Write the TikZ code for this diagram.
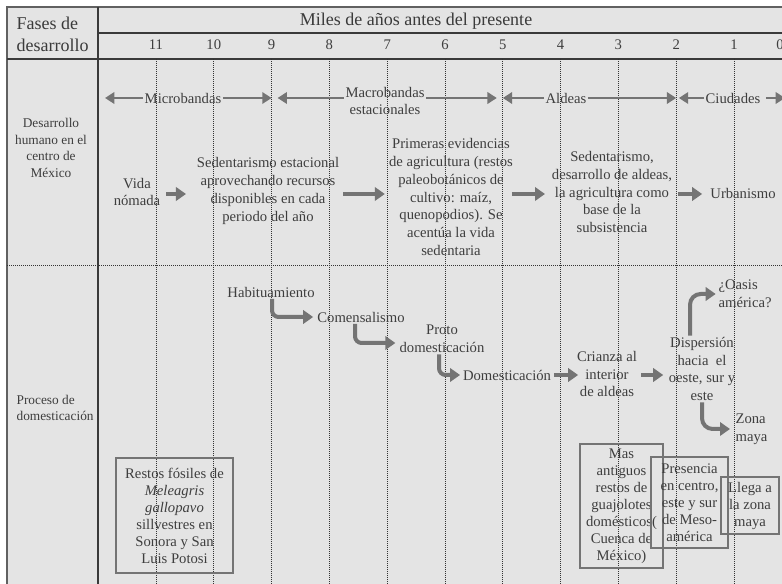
\documentclass[tikz,border=0pt]{standalone}
\usepackage{fontspec}
\setmainfont{Liberation Serif}
\usepackage{tikz}
\usetikzlibrary{arrows.meta,calc}
\definecolor{panel}{HTML}{E4E4E4}
\definecolor{ink}{HTML}{3E3E3E}
\definecolor{rulegray}{HTML}{3A3A3A}
\definecolor{arrowgray}{HTML}{747474}

\begin{document}
\begin{tikzpicture}[x=0.75pt,y=-0.75pt]
      \tikzstyle{txt} = [text=ink,font=\fontsize{11}{13.3}\selectfont,align=center,inner sep=1pt]
      \tikzstyle{head} = [text=rulegray,font=\fontsize{13.5}{16.5}\selectfont,align=left,inner sep=1pt]
      \tikzstyle{side} = [text=ink,font=\fontsize{10}{12.6}\selectfont,align=center,inner sep=1pt]
      \tikzstyle{year} = [text=ink,font=\fontsize{11}{13}\selectfont,inner sep=1pt]
      \tikzstyle{note} = [draw=arrowgray,line width=0.9pt,inner sep=0pt]
      \tikzstyle{notetxt} = [text=ink,font=\fontsize{11}{12.75}\selectfont,align=center,inner sep=0pt]
      \tikzstyle{flow} = [draw=arrowgray,line width=2.2pt,-{Triangle[length=7pt,width=8.5pt]}]
      \tikzstyle{trend} = [draw=arrowgray,line width=3pt,-{Triangle[length=7.5pt,width=10pt]}]
      \tikzstyle{grid} = [black!80,line width=0.5pt,dash pattern=on 0.6pt off 0.9pt]
      %
      \useasboundingbox (0,0) rectangle (782,584);
      % Panel and frame.
      \fill[panel] (7,7) rectangle (800,600);
      \draw[rulegray!80,line width=1.4pt] (7,600) -- (7,7) -- (800,7);
      \draw[rulegray,line width=1.4pt] (98,33) -- (800,33);
      \draw[rulegray,line width=1.5pt] (7,59) -- (800,59);
      \draw[grid] (7,265) -- (800,265);

      % Time axis.
      \foreach \yr [count=\n from 0] in {11,10,...,1} {
        \coordinate (t\yr) at ({156+57.8*\n},59);
        \draw[grid] (t\yr) -- ++(0,540);
        \node[year] (y\yr) at ({156+57.8*\n},45) {\yr};
      }
      \node[year] (y0) at (780,45) {0};
      \draw[rulegray,line width=1.2pt] (98,7) -- (98,600);

      % Header.
      \node[head,anchor=west] (fases) at (15,34) {Fases de\\desarrollo};
      \node[head] (miles) at (416,21) {Miles de años antes del presente};

      % First row.
      \node[side] (human) at (51,148) {Desarrollo\\humano en el\\centro de\\México};
      \coordinate (band) at (0,98);
      \coordinate (bandstart) at (105,98);
      \coordinate (bandend) at (785,98);
      \node[txt] (micro) at (183,98) {Microbandas};
      \node[txt] (macro) at (385,101) {Macrobandas\\estacionales};
      \node[txt] (aldeas) at (566,98) {Aldeas};
      \node[txt] (ciudades) at (733,98) {Ciudades};
      \draw[flow] (micro.west) -- (bandstart);
      \draw[flow] (micro.east) -- (t9 |- band);
      \draw[flow] (macro.west |- band) -- ([xshift=4.5pt]t9 |- band);
      \draw[flow] (macro.east |- band) -- ([xshift=-4.5pt]t5 |- band);
      \draw[flow] (aldeas.west) -- (t5 |- band);
      \draw[flow] (aldeas.east) -- (t2 |- band);
      \draw[flow] (ciudades.west) -- ([xshift=2pt]t2 |- band);
      \draw[flow,shorten <=3pt] (ciudades.east) -- (bandend);

      \coordinate (rowB) at (0,194);
      \node[txt] (vida) at (137,192) {Vida\\nómada};
      \node[txt] (sed1) at (268,191) {Sedentarismo estacional\\aprovechando recursos\\disponibles en cada\\periodo del año};
      \node[txt] (prim) at (451,197) {Primeras evidencias\\de agricultura (restos\\paleobotánicos de\\cultivo: maíz,\\quenopodios). Se\\acentúa la vida\\sedentaria};
      \node[txt] (sed2) at (612,192) {Sedentarismo,\\desarrollo de aldeas,\\la agricultura como\\base de la\\subsistencia};
      \node[txt] (urb) at (743,193) {Urbanismo};
      \draw[trend,shorten <=3.5pt,shorten >=7pt] (vida.east |- rowB) -- (sed1.west |- rowB);
      \draw[trend,shorten <=2pt,shorten >=2pt] (sed1.east |- rowB) -- (prim.west |- rowB);
      \draw[trend,shorten <=-2pt,shorten >=4pt] (prim.east |- rowB) -- (sed2.west |- rowB);
      \draw[trend,shorten <=3.5pt,shorten >=5pt] (sed2.east |- rowB) -- (urb.west |- rowB);

      % Second row.
      \node[side,anchor=west,align=left] (proc) at (15,408) {Proceso de\\domesticación};
      \node[txt] (hab) at (271,292) {Habituamiento};
      \node[txt] (com) at (361,317) {Comensalismo};
      \node[txt] (proto) at (442,339) {Proto\\domesticación};
      \node[txt] (dom) at (507,375) {Domesticación};
      \node[txt] (crianza) at (607,374) {Crianza al\\interior\\de aldeas};
      \node[txt] (disp) at (702,369) {Dispersión\\hacia\ \ el\\oeste, sur y\\este};
      \node[txt,anchor=west,align=left] (oasis) at (717,294) {¿Oasis\\américa?};
      \node[txt,anchor=west,align=left] (zona) at (734,429) {Zona\\maya};
      \draw[trend,rounded corners=5pt,shorten >=2pt] ([xshift=0.75pt]hab.south) |- (com.west);
      \draw[trend,rounded corners=5pt,shorten >=2pt] ([xshift=-4.5pt]com.south) |- ([yshift=-3pt]proto.west);
      \draw[trend,rounded corners=5pt,shorten >=1pt] ([xshift=-2.25pt]proto.south) |- (dom.west);
      \draw[trend,shorten <=1pt,shorten >=-2pt] (dom.east) -- (crianza.west |- dom.east);
      \draw[trend,shorten <=2pt,shorten >=3pt] (crianza.east |- dom.east) -- (disp.west |- dom.east);
      \draw[trend,rounded corners=8pt,shorten >=1pt] ([xshift=-9pt]disp.north) |- (oasis.west);
      \draw[trend,rounded corners=8pt,shorten >=3pt] (disp.south) |- (zona.west);

      % Boxes.
      \node[note,minimum width=87.75pt,minimum height=86.25pt] (fosil) at (174.5,515.5) {};
      \node[notetxt] (fosiltxt) at (fosil) {Restos fósiles de\\\textit{Meleagris}\\\textit{gallopavo}\\sillvestres en\\Sonora y San\\Luis Potosi};
      \node[note,minimum width=62.25pt,minimum height=93pt] (antiguos) at (621.5,506) {};
      \node[notetxt] (antiguostxt) at (antiguos) {Mas\\antiguos\\restos de\\guajolotes\\domésticos(\\Cuenca de\\México)};
      \node[note,minimum width=57.75pt,minimum height=68.25pt] (presencia) at (689.5,502.5) {};
      \node[notetxt] (presenciatxt) at (presencia) {Presencia\\en centro,\\este y sur\\de Meso-\\américa};
      \node[note,minimum width=43.5pt,minimum height=42.75pt] (llega) at (750,505.5) {};
      \node[notetxt] (llegatxt) at (llega) {Llega a\\la zona\\maya};
      %
\end{tikzpicture}
\end{document}
